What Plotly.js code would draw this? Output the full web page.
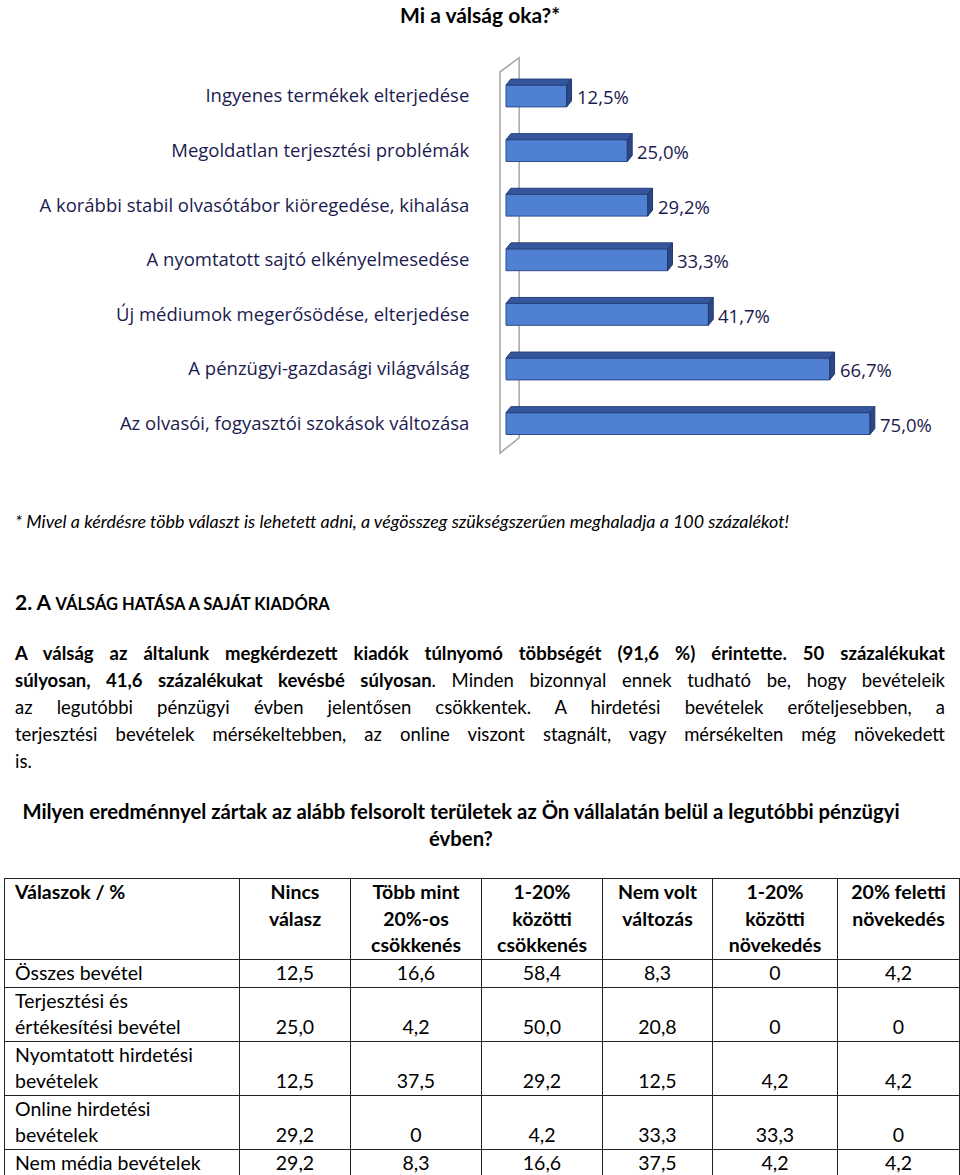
<!DOCTYPE html>
<html>
<head>
<meta charset="utf-8">
<script src="https://cdn.plot.ly/plotly-3.0.1.min.js"></script>
<style>
  body { margin: 0; background: #fff; font-family: Lato, "Open Sans", sans-serif; color: #000; }
  #page { position: relative; width: 960px; height: 1175px; overflow: hidden; }
  #chart { position: absolute; left: 0; top: 0; width: 960px; height: 470px; }
  .abs { position: absolute; white-space: nowrap; }
  #note { left: 15px; top: 509px; font-size: 17.9px; font-style: italic; line-height: 24px; font-family: "Liberation Sans Narrow", Lato, sans-serif; }
  #head2 { left: 15px; top: 588px; font-weight: bold; font-size: 21px; line-height: 28px; }
  #head2 small { font-size: 16.5px; }
  #para { left: 15px; top: 640px; width: 930px; font-size: 18.5px; line-height: 27px; }
  #para div { text-align: justify; text-align-last: justify; }
  #para div.last { text-align-last: left; }
  #quest { left: 0; top: 798px; width: 922px; text-align: center; font-weight: bold; font-size: 20.3px; line-height: 27px; }
  #tbl { position: absolute; left: 4px; top: 878px; border-collapse: collapse; font-size: 19.5px; line-height: 26.5px; }
  #tbl td, #tbl th { border: 1.5px solid #222; padding: 0 4px; }
  #tbl th { vertical-align: top; font-weight: bold; text-align: center; }
  #tbl th.first { text-align: left; padding-left: 10px; }
  #tbl td { vertical-align: bottom; text-align: center; }
  #tbl td.first { text-align: left; padding-left: 10px; }
</style>
</head>
<body>
<div id="page">
  <div id="chart"></div>
  <div id="note" class="abs">* Mivel a kérdésre több választ is lehetett adni, a végösszeg szükségszerűen meghaladja a 100 százalékot!</div>
  <div id="head2" class="abs">2. A <small>VÁLSÁG HATÁSA A SAJÁT KIADÓRA</small></div>
  <div id="para" class="abs">
    <div><b>A válság az általunk megkérdezett kiadók túlnyomó többségét (91,6 %) érintette. 50 százalékukat</b></div>
    <div><b>súlyosan, 41,6 százalékukat kevésbé súlyosan</b>. Minden bizonnyal ennek tudható be, hogy bevételeik</div>
    <div>az legutóbbi pénzügyi évben jelentősen csökkentek. A hirdetési bevételek erőteljesebben, a</div>
    <div>terjesztési bevételek mérsékeltebben, az online viszont stagnált, vagy mérsékelten még növekedett</div>
    <div class="last">is.</div>
  </div>
  <div id="quest" class="abs">Milyen eredménnyel zártak az alább felsorolt területek az Ön vállalatán belül a legutóbbi pénzügyi<br>évben?</div>
  <table id="tbl"></table>
</div>
<script>
// chart data (top to bottom)
var causes = [
  "Ingyenes termékek elterjedése",
  "Megoldatlan terjesztési problémák",
  "A korábbi stabil olvasótábor kiöregedése, kihalása",
  "A nyomtatott sajtó elkényelmesedése",
  "Új médiumok megerősödése, elterjedése",
  "A pénzügyi-gazdasági világválság",
  "Az olvasói, fogyasztói szokások változása"
];
var shares = [12.5, 25.0, 29.2, 33.3, 41.7, 66.7, 75.0];

// table data
var colHeads = ["Válaszok / %", "Nincs<br>válasz", "Több mint<br>20%-os<br>csökkenés", "1-20%<br>közötti<br>csökkenés",
  "Nem volt<br>változás", "1-20%<br>közötti<br>növekedés", "20% feletti<br>növekedés"];
var rowLabels = ["Összes bevétel", "Terjesztési és<br>értékesítési bevétel", "Nyomtatott hirdetési<br>bevételek",
  "Online hirdetési<br>bevételek", "Nem média bevételek"];
var osszes = ["12,5", "16,6", "58,4", "8,3", "0", "4,2"];
var terjesztesi = ["25,0", "4,2", "50,0", "20,8", "0", "0"];
var nyomtatott = ["12,5", "37,5", "29,2", "12,5", "4,2", "4,2"];
var online = ["29,2", "0", "4,2", "33,3", "33,3", "0"];
var nemMedia = ["29,2", "8,3", "16,6", "37,5", "4,2", "4,2"];

var colWidths = [233, 111, 131, 121, 110, 125, 122];
var rowHeights = [28, 53, 53, 54, 27];

var pos = causes.map(function (c, i) { return i; });
var barW = 0.4;
var dx = 1.0, dy = 0.11;   // depth of the 3d look, in axis units
var labelColor = "#1b1b4f";

var shapes = [];
// back wall
shapes.push({
  type: "path", xref: "x", yref: "y", layer: "below",
  path: "M -1.24,-0.44 L 2.7,-0.70 L 2.7,6.26 L -1.24,6.54 Z",
  line: { color: "#a6a6a6", width: 1.5 }, fillcolor: "rgba(0,0,0,0)"
});
shares.forEach(function (v, i) {
  var t = i - barW / 2;
  var b = i + barW / 2;
  shapes.push({
    type: "path", xref: "x", yref: "y",
    path: "M 0," + t + " L " + v + "," + t + " L " + (v + dx) + "," + (t - dy) + " L " + dx + "," + (t - dy) + " Z",
    fillcolor: "#35559c", line: { color: "#26417a", width: 1 }
  });
  shapes.push({
    type: "path", xref: "x", yref: "y",
    path: "M " + v + "," + t + " L " + (v + dx) + "," + (t - dy) + " L " + (v + dx) + "," + (b - dy) + " L " + v + "," + b + " Z",
    fillcolor: "#2b4785", line: { color: "#22396c", width: 1 }
  });
});

var annotations = shares.map(function (v, i) {
  return {
    x: v + dx, y: i, xref: "x", yref: "y", xanchor: "left", yanchor: "middle", xshift: 3, yshift: -1,
    text: v.toFixed(1).replace(".", ",") + "%", showarrow: false,
    font: { family: "Open Sans", size: 18.5, color: labelColor }
  };
});
// chart heading, placed above the plot area
annotations.push({
  xref: "paper", yref: "paper", x: (480 - 490) / 470, y: 1, xanchor: "center", yanchor: "middle", yshift: 36,
  text: "<b>Mi a válság oka?*</b>", showarrow: false,
  font: { family: "Lato", size: 21, color: "#000" }
});

var data = [{
  type: "bar", orientation: "h",
  x: shares, y: pos, width: barW, base: 0,
  marker: { color: "#5080d2", line: { color: "#2c4c8e", width: 1 } },
  hoverinfo: "skip"
}];

var layout = {
  width: 960, height: 470,
  margin: { l: 490, r: 0, t: 50, b: 10 },
  paper_bgcolor: "#fff", plot_bgcolor: "#fff",
  xaxis: { range: [-3.3, 93.55], visible: false, fixedrange: true },
  yaxis: {
    range: [6.667, -0.842], tickvals: pos, ticktext: causes,
    showgrid: false, zeroline: false, showline: false,
    ticks: "outside", ticklen: 16, tickcolor: "rgba(0,0,0,0)",
    tickfont: { family: "Open Sans", size: 18.5, color: labelColor }
  },
  shapes: shapes,
  annotations: annotations,
  showlegend: false
};

Plotly.newPlot("chart", data, layout, { displayModeBar: false, staticPlot: true });

// build table
var tbl = document.getElementById("tbl");
var html = "<tr style='height:80px'>";
colHeads.forEach(function (h, j) {
  html += "<th" + (j === 0 ? " class='first'" : "") + " style='width:" + (colWidths[j] - (j === 0 ? 13 : 9)) + "px'>" + h + "</th>";
});
html += "</tr>";
[osszes, terjesztesi, nyomtatott, online, nemMedia].forEach(function (row, r) {
  html += "<tr style='height:" + rowHeights[r] + "px'><td class='first'>" + rowLabels[r] + "</td>";
  row.forEach(function (val) { html += "<td>" + val + "</td>"; });
  html += "</tr>";
});
tbl.innerHTML = html;
</script>
</body>
</html>
